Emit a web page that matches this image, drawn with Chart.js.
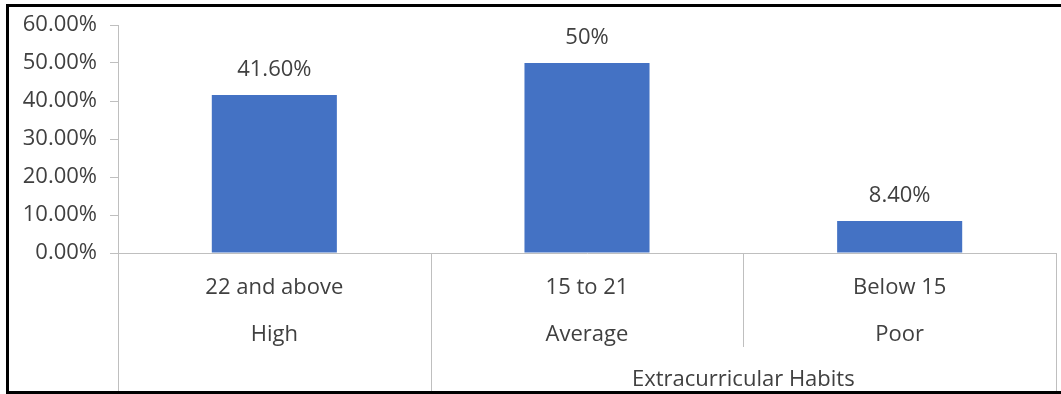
<!DOCTYPE html>
<html>
<head>
<meta charset="utf-8">
<script src="https://cdn.jsdelivr.net/npm/chart.js@4"></script>
<style>
  html, body { margin: 0; padding: 0; background: #fff; }
  #wrap { position: relative; width: 1061px; height: 394px; overflow: hidden; }
  #c { position: absolute; left: 0; top: 0; }
  #frame { position: absolute; left: 6px; top: 4px; width: 1055px; height: 390px;
           box-sizing: border-box; border-top: 3px solid #000; border-left: 3px solid #000;
           border-bottom: 3px solid #000; pointer-events: none; }
</style>
</head>
<body>
<div id="wrap">
  <canvas id="c" width="1061" height="394"></canvas>
  <div id="frame"></div>
</div>
<script>
const rangeLabels = ['22 and above', '15 to 21', 'Below 15'];
const levelLabels = ['High', 'Average', 'Poor'];
const groupLabel = 'Extracurricular Habits';
const values = [41.6, 50, 8.4];
const valueLabels = ['41.60%', '50%', '8.40%'];
const yTicks = [0, 10, 20, 30, 40, 50, 60];

const FONT = '"Open Sans", "Noto Sans", sans-serif';
const TEXT = '#404040';
const AXIS = '#bfbfbf';

const dataLabelPlugin = {
  id: 'dataLabels',
  afterDatasetsDraw(chart) {
    const ctx = chart.ctx;
    const meta = chart.getDatasetMeta(0);
    ctx.save();
    ctx.font = '22px ' + FONT;
    ctx.fillStyle = TEXT;
    ctx.textAlign = 'center';
    ctx.textBaseline = 'middle';
    meta.data.forEach((bar, i) => {
      ctx.fillText(valueLabels[i], bar.x, bar.y - 25);
    });
    ctx.restore();
  }
};

const multiLevelPlugin = {
  id: 'multiLevel',
  afterDraw(chart) {
    const ctx = chart.ctx;
    const xs = chart.scales.x;
    const n = rangeLabels.length;
    const p = i => xs.getPixelForValue(i);
    const half = (p(1) - p(0)) / 2;
    const bounds = [p(0) - half];
    for (let i = 0; i < n; i++) bounds.push(p(i) + half);
    ctx.save();
    ctx.strokeStyle = AXIS;
    ctx.lineWidth = 1;
    bounds.forEach((bx, k) => {
      const x = Math.round(bx) + 0.5;
      const yEnd = (k === 2) ? xs.bottom - 47 : chart.height;
      ctx.beginPath();
      ctx.moveTo(x, xs.top);
      ctx.lineTo(x, yEnd);
      ctx.stroke();
    });
    ctx.font = '22px ' + FONT;
    ctx.fillStyle = TEXT;
    ctx.textAlign = 'center';
    ctx.textBaseline = 'middle';
    ctx.fillText(groupLabel, (p(1) + p(2)) / 2, xs.bottom - 14);
    ctx.restore();
  }
};

new Chart(document.getElementById('c'), {
  type: 'bar',
  data: {
    labels: rangeLabels.map((r, i) => [r, levelLabels[i]]),
    datasets: [{
      data: values,
      backgroundColor: '#4472C4',
      borderWidth: 0,
      categoryPercentage: 1,
      barPercentage: 0.4
    }]
  },
  options: {
    responsive: false,
    animation: false,
    devicePixelRatio: 1,
    layout: { padding: { top: 25, left: 0, right: 5, bottom: 0 } },
    plugins: { legend: { display: false }, tooltip: { enabled: false } },
    scales: {
      x: {
        offset: true,
        grid: { display: false, drawTicks: false },
        border: { display: true, color: AXIS, width: 1 },
        ticks: {
          color: TEXT,
          padding: 11.5,
          maxRotation: 0,
          autoSkip: false,
          font: { family: FONT, size: 22, lineHeight: '47px' }
        },
        afterFit(s) { s.height = 141; s.paddingLeft = 0; s.paddingRight = 0; }
      },
      y: {
        min: 0,
        max: 60,
        afterBuildTicks(s) { s.ticks = yTicks.map(v => ({ value: v })); },
        grid: { drawOnChartArea: false, drawTicks: true, tickLength: 8, color: AXIS },
        border: { display: true, color: AXIS, width: 1 },
        ticks: {
          color: TEXT,
          padding: 13,
          font: { family: FONT, size: 22 },
          callback: v => v.toFixed(2) + '%'
        },
        afterFit(s) { s.width = 118; s.paddingTop = 0; s.paddingBottom = 0; }
      }
    }
  },
  plugins: [dataLabelPlugin, multiLevelPlugin]
});
</script>
</body>
</html>
